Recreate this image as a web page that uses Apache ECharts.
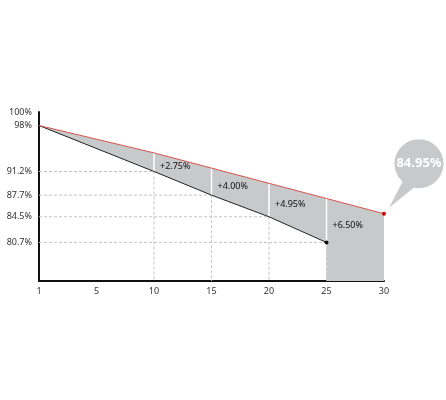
<!DOCTYPE html>
<html>
<head>
<meta charset="utf-8">
<script src="https://cdn.jsdelivr.net/npm/echarts@6/dist/echarts.min.js"></script>
<style>
html,body{margin:0;padding:0;background:#fff;}
#chart{width:446px;height:400px;}
</style>
</head>
<body>
<div id="chart"></div>
<script>
const xLabels = ['1', '5', '10', '15', '20', '25', '30'];
const upperValues = [98, null, 93.95, 91.7, 89.45, 87.2, 84.95];
const lowerValues = [98, null, 91.2, 87.7, 84.5, 80.7, null];
const yTickValues = [100, 98, 91.2, 87.7, 84.5, 80.7];
const gapStarts = ['10', '15', '20', '25'];
const gapLabels = ['+2.75%', '+4.00%', '+4.95%', '+6.50%'];
const calloutText = '84.95%';
const yMin = 75;
const yMax = 100;

const FONT = 'Noto Sans';
const GRAY = '#c8c9cb';

function lastIndex(arr) {
  for (let i = arr.length - 1; i >= 0; i--) if (arr[i] != null) return i;
  return -1;
}

function renderBand(params, api) {
  const children = [];
  // dashed guide lines from the lower line points
  lowerValues.forEach((v, i) => {
    if (v == null || i === 0) return;
    const p = api.coord([i, v]);
    const a = api.coord([0, v]);
    const b = api.coord([i, yMin]);
    const st = { stroke: '#c4c4c4', lineWidth: 1, lineDash: [3, 2] };
    children.push({ type: 'line', shape: { x1: a[0], y1: a[1], x2: p[0], y2: p[1] }, style: st });
    children.push({ type: 'line', shape: { x1: p[0], y1: p[1], x2: b[0], y2: b[1] }, style: st });
  });
  // gray band polygon
  const pts = [];
  upperValues.forEach((v, i) => { if (v != null) pts.push(api.coord([i, v])); });
  const lu = lastIndex(upperValues);
  const ll = lastIndex(lowerValues);
  pts.push(api.coord([lu, yMin]));
  pts.push(api.coord([ll, yMin]));
  for (let i = ll; i >= 0; i--) {
    if (lowerValues[i] != null) pts.push(api.coord([i, lowerValues[i]]));
  }
  children.push({ type: 'polygon', shape: { points: pts }, style: { fill: GRAY } });
  // white separators
  for (let i = 1; i < upperValues.length; i++) {
    if (upperValues[i] != null && lowerValues[i] != null) {
      const a = api.coord([i, upperValues[i]]);
      const b = api.coord([i, lowerValues[i]]);
      children.push({ type: 'line', shape: { x1: a[0], y1: a[1], x2: b[0], y2: b[1] },
        style: { stroke: '#ffffff', lineWidth: 1.5 } });
    }
  }
  // gap labels
  gapStarts.forEach((s, k) => {
    const i = xLabels.indexOf(s);
    const yv = (upperValues[i + 1] + lowerValues[i]) / 2;
    const p = api.coord([i, yv]);
    children.push({ type: 'text', x: p[0] + 6, y: p[1] - 3,
      style: { text: gapLabels[k], fill: '#111', font: '9px "' + FONT + '"',
        align: 'left', verticalAlign: 'middle' } });
  });
  return { type: 'group', children: children };
}

function renderCallout(params, api) {
  const i = lastIndex(upperValues);
  const p = api.coord([i, upperValues[i]]);
  const cx = p[0] + 35, cy = p[1] - 50, r = 24.5;
  return {
    type: 'group',
    children: [
      { type: 'polygon', shape: { points: [[p[0] + 5, p[1] - 6], [p[0] + 19, p[1] - 33], [p[0] + 31, p[1] - 27]] },
        style: { fill: GRAY } },
      { type: 'circle', shape: { cx: cx, cy: cy, r: r }, style: { fill: GRAY } },
      { type: 'text', x: cx, y: cy,
        style: { text: calloutText, fill: '#ffffff', font: 'bold 13px "' + FONT + '"',
          align: 'center', verticalAlign: 'middle' } }
    ]
  };
}

const chart = echarts.init(document.getElementById('chart'), null, { renderer: 'canvas' });
chart.setOption({
  animation: false,
  backgroundColor: '#ffffff',
  grid: { left: 39, right: 62, top: 112, bottom: 119, containLabel: false },
  xAxis: {
    type: 'category',
    data: xLabels,
    boundaryGap: false,
    axisLine: { show: true, lineStyle: { color: '#111', width: 2 } },
    axisTick: { show: false },
    splitLine: { show: false },
    axisLabel: { color: '#333', fontSize: 9, fontFamily: FONT, margin: 6, interval: 0 }
  },
  yAxis: {
    type: 'value',
    min: yMin,
    max: yMax,
    axisLine: { show: true, lineStyle: { color: '#111', width: 2 } },
    axisTick: { show: false },
    splitLine: { show: false },
    axisLabel: {
      customValues: yTickValues,
      color: '#333', fontSize: 9, fontFamily: FONT, margin: 7,
      formatter: v => v + '%'
    }
  },
  series: [
    { type: 'custom', z: 1, renderItem: renderBand, data: [[0, yMin]], silent: true },
    {
      type: 'line', z: 3, data: lowerValues, connectNulls: true,
      lineStyle: { color: '#222', width: 1 },
      symbol: 'circle', showSymbol: true,
      symbolSize: (v, p) => (p.dataIndex === lastIndex(lowerValues) ? 4 : 0),
      itemStyle: { color: '#111' }
    },
    {
      type: 'line', z: 3, data: upperValues, connectNulls: true,
      lineStyle: { color: '#d9534f', width: 1 },
      symbol: 'circle', showSymbol: true,
      symbolSize: (v, p) => (p.dataIndex === lastIndex(upperValues) ? 4 : 0),
      itemStyle: { color: '#cc0000' }
    },
    { type: 'custom', z: 4, renderItem: renderCallout, data: [[0, yMin]], silent: true }
  ]
});
</script>
</body>
</html>
